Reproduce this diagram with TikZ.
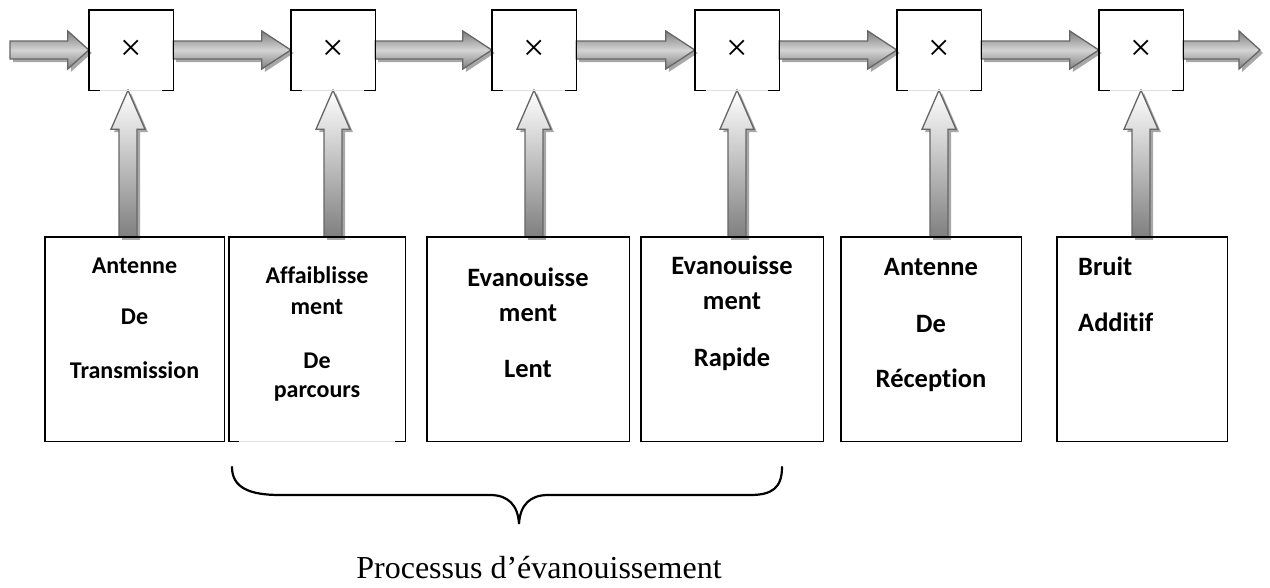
\documentclass[tikz,border=0pt]{standalone}
\usepackage{fontspec}
\setmainfont{Liberation Serif}
\newfontfamily\carlito[Ligatures={NoCommon}]{Carlito}
\usetikzlibrary{calc,shadows}

\definecolor{arrline}{gray}{0.40}
\definecolor{arrdark}{gray}{0.50}
\definecolor{arrlight}{gray}{0.83}
\definecolor{arrshade}{gray}{0.66}
\definecolor{gapline}{gray}{0.88}

\tikzset{
  multbox/.style={rectangle, minimum width=84pt, minimum height=80pt, inner sep=0pt,
    font=\fontsize{38}{38}\selectfont},
  frame/.style={line width=1.4pt, line join=miter},
  blockbox/.style={rectangle, inner sep=0pt},
  smalltxt/.style={font=\carlito\bfseries\fontsize{24}{24}\selectfont, anchor=base, inner sep=0pt},
  bigtxt/.style={font=\carlito\bfseries\fontsize{26.5}{26.5}\selectfont, anchor=base, inner sep=0pt},
  flowarrow/.style={draw=arrline, line width=1.3pt, line join=miter,
    top color=arrdark, bottom color=arrdark, middle color=arrlight,
    drop shadow={shadow xshift=3pt, shadow yshift=-3pt, fill=arrshade, opacity=1}},
  feedarrow/.style={draw=arrline, line width=1.3pt, line join=miter,
    top color=white, bottom color=arrdark,
    drop shadow={shadow xshift=3pt, shadow yshift=-3pt, fill=arrshade, opacity=1}},
  bracepath/.style={line width=2.2pt, line cap=round},
}

% horizontal block arrow: #1 head length, #2 tail, #3 tip
\newcommand\hblock[3]{%
  \path[flowarrow] let \p1=(#2), \p2=(#3) in
    (\x1,\y2+9pt) -- (\x2-#1pt,\y2+9pt) -- (\x2-#1pt,\y2+19pt) -- (\x2,\y2)
    -- (\x2-#1pt,\y2-19pt) -- (\x2-#1pt,\y2-9pt) -- (\x1,\y2-9pt) -- cycle;}
% vertical block arrow pointing up: #1 tail, #2 tip
\newcommand\vblock[2]{%
  \path[feedarrow] let \p1=(#1), \p2=(#2) in
    (\x2-9pt,\y1) -- (\x2-9pt,\y2-39pt) -- (\x2-17pt,\y2-39pt) -- (\x2,\y2)
    -- (\x2+17pt,\y2-39pt) -- (\x2+9pt,\y2-39pt) -- (\x2+9pt,\y1) -- cycle;}

\begin{document}
\begin{tikzpicture}[x=1pt,y=-1pt]
\useasboundingbox (0,0) rectangle (1270,587);

% multipliers
\foreach \i/\x in {1/131,2/333,3/534,4/737,5/939,6/1141}
  \node[multbox] (m\i) at (\x,50) {×};

% channel blocks
\node[blockbox, minimum width=179pt, minimum height=204pt] (b1) at (134.5,339) {};
\node[blockbox, minimum width=176pt, minimum height=204pt] (b2) at (317,339) {};
\node[blockbox, minimum width=202pt, minimum height=204pt] (b3) at (528,339) {};
\node[blockbox, minimum width=182pt, minimum height=204pt] (b4) at (732,339) {};
\node[blockbox, minimum width=180pt, minimum height=204pt] (b5) at (931,339) {};
\node[blockbox, minimum width=170pt, minimum height=204pt] (b6) at (1142,339) {};

% signal path
\coordinate (in) at (10,50);
\coordinate (out) at (1260,50);
\hblock{21}{in}{m1.west}
\hblock{29}{m1.east}{m2.west}
\hblock{29}{m2.east}{m3.west}
\hblock{29}{m3.east}{m4.west}
\hblock{29}{m4.east}{m5.west}
\hblock{21}{m6.east}{out}
\hblock{29}{m5.east}{m6.west}

% feeds into the multipliers
\coordinate (t1) at ([xshift=-3pt]m1.south);
\foreach \i in {2,...,6} \coordinate (t\i) at (m\i.south);
\foreach \i in {1,...,6} \vblock{t\i |- b\i.north}{t\i};

% multiplier outlines, open at the bottom
\foreach \i in {1,...,6} {
  \draw[gapline, line width=1pt] ([xshift=11pt]m\i.south west) -- ([xshift=-11pt]m\i.south east);
  \draw[frame] ([xshift=11pt]m\i.south west) -- (m\i.south west) -- (m\i.north west)
    -- (m\i.north east) -- (m\i.south east) -- ([xshift=-11pt]m\i.south east);
}

% block outlines
\foreach \i in {1,3,4,5,6} \draw[frame] (b\i.south west) rectangle (b\i.north east);
\draw[gapline, line width=1pt] ([xshift=10pt]b2.south west) -- ([xshift=-10pt]b2.south east);
\draw[frame] ([xshift=10pt]b2.south west) -- (b2.south west) -- (b2.north west)
  -- (b2.north east) -- (b2.south east) -- ([xshift=-10pt]b2.south east);

% block labels
\node[smalltxt] (b1a) at (134.5,273) {Antenne};
\node[smalltxt] (b1b) at (134.5,324) {De};
\node[smalltxt] (b1c) at (134.5,378) {Transmission};
\node[smalltxt] (b2a) at (317,283) {Affaiblisse};
\node[smalltxt] (b2b) at (317,314) {ment};
\node[smalltxt] (b2c) at (317,368) {De};
\node[smalltxt] (b2d) at (317,397) {parcours};
\node[bigtxt] (b3a) at (528,286) {Evanouisse};
\node[bigtxt] (b3b) at (528,321) {ment};
\node[bigtxt] (b3c) at (528,377) {Lent};
\node[bigtxt] (b4a) at (732,274) {Evanouisse};
\node[bigtxt] (b4b) at (732,309) {ment};
\node[bigtxt] (b4c) at (732,366) {Rapide};
\node[bigtxt] (b5a) at (931,275) {Antenne};
\node[bigtxt] (b5b) at (931,332) {De};
\node[bigtxt] (b5c) at (931,387) {Réception};
\node[bigtxt, anchor=base west] (b6a) at (1078,275) {Bruit};
\node[bigtxt, anchor=base west] (b6b) at (1078,331) {Additif};

% brace grouping the fading blocks
\draw[bracepath] (232,467) .. controls (232,488) and (250,495) .. (280,495)
  -- (490,495) .. controls (508,495) and (518,505) .. (519,524)
  .. controls (520,505) and (530,495) .. (548,495)
  -- (750,495) .. controls (772,495) and (782,488) .. (782,467);
\node[font=\fontsize{32}{32}\selectfont, anchor=base, inner sep=0pt] (cap) at (539,578)
  {Processus d’évanouissement};
\end{tikzpicture}
\end{document}
